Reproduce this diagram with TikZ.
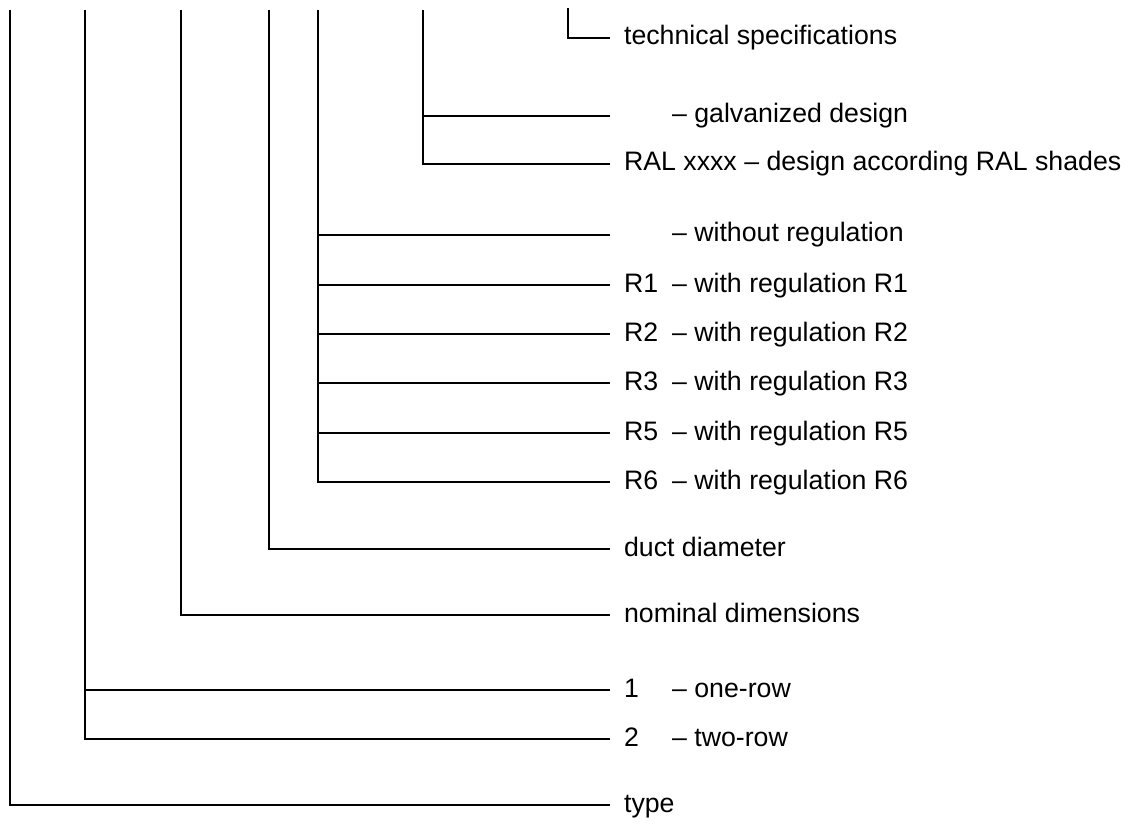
\documentclass[tikz,border=0pt]{standalone}
\usepackage{fontspec}
\setmainfont{Liberation Sans}
\newcommand{\rowcode}[1]{\makebox[48pt][l]{#1}}
\begin{document}
\begin{tikzpicture}[x=1pt,y=-1pt,line width=2.2pt,line join=miter,
  font=\fontsize{26.7}{32}\selectfont,
  lbl/.style={anchor=west,inner xsep=13pt,inner ysep=0pt,text height=20pt,text depth=6pt}]
\useasboundingbox (0,0) rectangle (1132,826);
\node[lbl] (tech) at (610,38) {technical specifications};
\node[lbl] (galv) at (610,116) {\rowcode{}– galvanized design};
\node[lbl] (ral) at (610,164) {RAL xxxx – design according RAL shades};
\node[lbl] (r0) at (610,235) {\rowcode{}– without regulation};
\foreach \n/\y in {1/285,2/334,3/383,5/433,6/482}
  \node[lbl] (r\n) at (610,\y) {\rowcode{R\n}– with regulation R\n};
\node[lbl] (duct) at (610,549) {duct diameter};
\node[lbl] (nom) at (610,615) {nominal dimensions};
\node[lbl] (one) at (610,690) {\rowcode{1}– one-row};
\node[lbl] (two) at (610,739) {\rowcode{2}– two-row};
\node[lbl] (type) at (610,805) {type};
\coordinate (t-type) at (10,10);
\coordinate (t-row) at (85,10);
\coordinate (t-nom) at (181,10);
\coordinate (t-duct) at (269,10);
\coordinate (t-reg) at (318,10);
\coordinate (t-col) at (423,10);
\coordinate (t-tech) at (568,8);
\draw (t-type) |- (type.west);
\draw (t-row) |- (two.west) (t-row |- one.west) -- (one.west);
\draw (t-nom) |- (nom.west);
\draw (t-duct) |- (duct.west);
\draw (t-reg) |- (r6.west);
\foreach \n in {0,1,2,3,5}
  \draw (t-reg |- r\n.west) -- (r\n.west);
\draw (t-col) |- (ral.west) (t-col |- galv.west) -- (galv.west);
\draw (t-tech) |- (tech.west);
\end{tikzpicture}
\end{document}
